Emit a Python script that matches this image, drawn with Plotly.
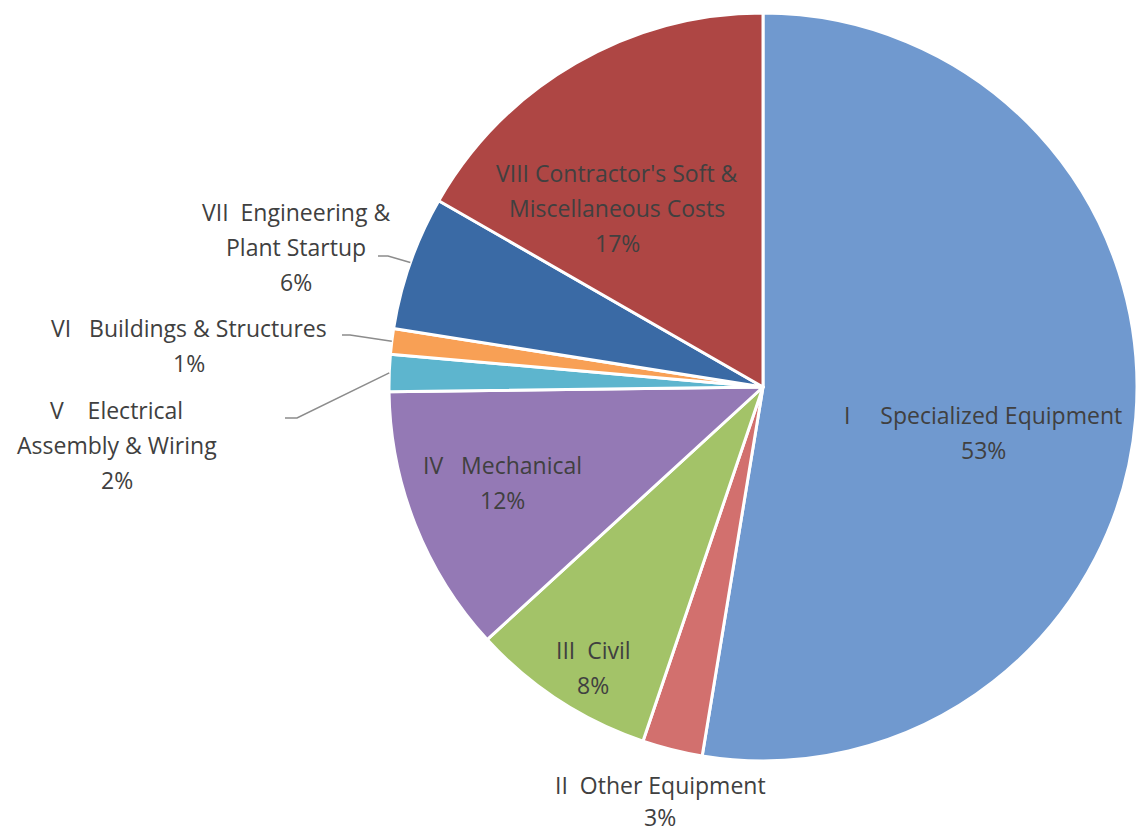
import math
import plotly.graph_objects as go

# Cost breakdown by category (share of total, %)
codes = ["I", "II", "III", "IV", "V", "VI", "VII", "VIII"]
names = [
    ["Specialized Equipment"],
    ["Other Equipment"],
    ["Civil"],
    ["Mechanical"],
    ["Electrical", "Assembly & Wiring"],
    ["Buildings & Structures"],
    ["Engineering &", "Plant Startup"],
    ["Contractor's Soft &", "Miscellaneous Costs"],
]
shares = [52.6, 2.6, 8.0, 11.6, 1.6, 1.1, 5.8, 16.7]
colors = ["#7099CF", "#D2706E", "#A3C368", "#9479B5",
          "#5DB5CE", "#F8A055", "#3A6AA5", "#AE4644"]

W, H = 1137, 834
CX, CY, R = 763, 387, 374  # pie centre / radius in pixels
LINE_STEP = 35              # label line spacing in pixels

# first-line centre of each label (px), and spaces after the roman numeral
label_pos = {
    "I": (983, 415), "II": (660, 785), "III": (593, 650), "IV": (502, 465),
    "V": (117, 410), "VI": (189, 328), "VII": (296, 212), "VIII": (617, 173),
}
line_step = {"II": 32}
gap = {"I": 5, "II": 2, "III": 2, "IV": 3, "V": 4, "VI": 3, "VII": 2, "VIII": 1}
leader_start = {
    "V": [(285, 418), (297, 418)],
    "VI": [(342, 335), (350, 335)],
    "VII": [(378, 256), (388, 256)],
}
FONT = dict(family="Open Sans, sans-serif", size=23, color="#404040")


def px(x, y):
    return x / W, 1 - y / H


total = sum(shares)
hover_labels = [f"{c} {' '.join(n)}" for c, n in zip(codes, names)]

fig = go.Figure(go.Pie(
    labels=hover_labels,
    values=shares,
    sort=False,
    direction="clockwise",
    rotation=0,
    marker=dict(colors=colors, line=dict(color="white", width=3)),
    textinfo="none",
    hoverinfo="label+percent",
    domain=dict(x=[max(0.0, (CX - R) / W), min(1.0, (CX + R) / W)],
                y=[1 - (CY + R) / H, 1 - (CY - R) / H]),
    showlegend=False,
))

annotations = []
shapes = []
cum = 0.0
for code, name, v in zip(codes, names, shares):
    pct = round(100 * v / total)
    first = code + "&nbsp;" * gap[code] + name[0]
    lines = [first] + name[1:] + [f"{pct}%"]
    lx, ly = label_pos[code]
    step = line_step.get(code, LINE_STEP)
    for i, line in enumerate(lines):
        ax, ay = px(lx, ly + i * step)
        annotations.append(dict(
            x=ax, y=ay, xref="paper", yref="paper", text=line, showarrow=False,
            xanchor="center", yanchor="middle", align="center", font=FONT,
        ))
    mid = (cum + v / 2) / total * 2 * math.pi
    cum += v
    if code in leader_start:
        ex = CX + R * math.sin(mid)
        ey = CY - R * math.cos(mid)
        pts = leader_start[code] + [(ex, ey)]
        path = "M " + " L ".join(f"{px(x, y)[0]},{px(x, y)[1]}" for x, y in pts)
        shapes.append(dict(type="path", path=path, xref="paper", yref="paper",
                           line=dict(color="#8C8C8C", width=1.5)))

fig.update_layout(
    width=W, height=H,
    margin=dict(l=0, r=0, t=0, b=0),
    paper_bgcolor="white",
    plot_bgcolor="white",
    annotations=annotations,
    shapes=shapes,
)

fig.write_html("out.html")
